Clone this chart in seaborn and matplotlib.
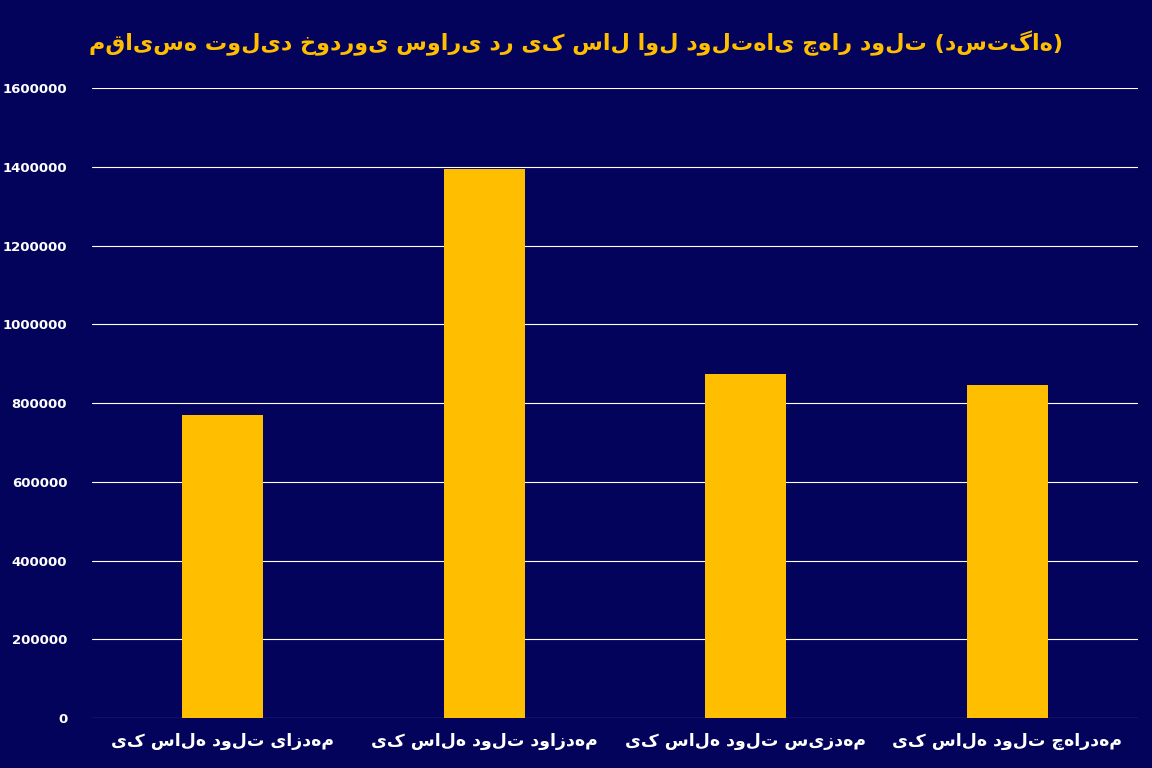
import matplotlib
matplotlib.use("Agg")
import matplotlib.pyplot as plt
import seaborn as sns
import pandas as pd

categories = ["یک ساله دولت یازدهم", "یک ساله دولت دوازدهم", "یک ساله دولت سیزدهم", "یک ساله دولت چهاردهم"]
values = [770000, 1394000, 875000, 847000]
yticks = [0, 200000, 400000, 600000, 800000, 1000000, 1200000, 1400000, 1600000]
title = "مقایسه تولید خودروی سواری در یک سال اول دولت‌های چهار دولت (دستگاه)"

sns.set_theme(style="white")
plt.rcParams['font.family'] = ['DejaVu Sans']
bg = "#03035b"
fig = plt.figure(figsize=(11.52, 7.68), dpi=100, facecolor=bg)
ax = fig.add_axes([0.08, 0.065, 0.908, 0.82])
ax.set_facecolor(bg)
df = pd.DataFrame({"cat": categories, "val": values})
sns.barplot(data=df, x="cat", y="val", color="#ffbe00", width=0.31, saturation=1,
            edgecolor="none", linewidth=0, ax=ax, zorder=3)
ax.set_ylim(0, 1600000)
ax.set_yticks(yticks)
ax.set_yticklabels([str(v) for v in yticks], color="white", fontsize=9.5, fontweight="bold")
ax.grid(axis="y", color="white", linewidth=0.8, zorder=0)
ax.set_axisbelow(True)
for s in ax.spines.values():
    s.set_visible(False)
ax.tick_params(axis="x", colors="white", labelsize=12.5, length=0, pad=10)
ax.tick_params(axis="y", length=0, pad=18)
for t in ax.get_xticklabels():
    t.set_fontweight("bold")
ax.set_xlabel("")
ax.set_ylabel("")
fig.text(0.5, 0.935, title, color="#ffbe00", fontsize=16, fontweight="bold", ha="center")
fig.savefig("out.png", facecolor=bg)
